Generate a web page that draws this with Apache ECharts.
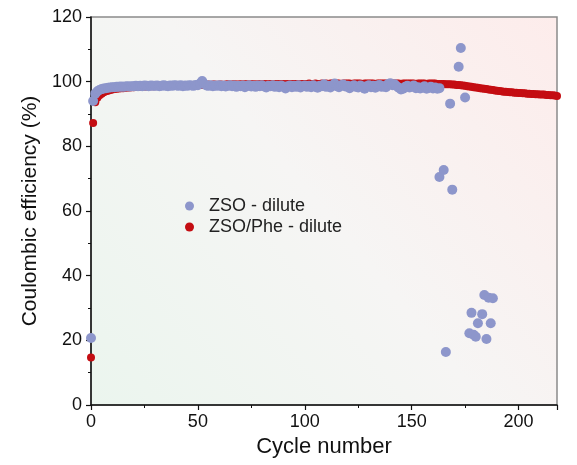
<!DOCTYPE html>
<html>
<head>
<meta charset="utf-8">
<script src="https://cdn.jsdelivr.net/npm/echarts@6/dist/echarts.min.js"></script>
<style>
  html, body { margin: 0; padding: 0; background: #fff; }
  #main { width: 577px; height: 465px; }
</style>
</head>
<body>
<div id="main"></div>
<script>
// ZSO - dilute, one value per cycle from 0 to 163
const zsoMain = [
  20.7, 94.0, 96.3, 97.0, 97.4, 97.7, 97.9, 98.0, 98.1, 98.2,
  98.3, 98.3, 98.4, 98.4, 98.5, 98.4, 98.5, 98.6, 98.5, 98.6,
  98.6, 98.7, 98.6, 98.7, 98.6, 98.8, 98.7, 98.6, 98.8, 98.7,
  98.7, 98.8, 98.6, 98.7, 98.9, 98.7, 98.6, 98.8, 98.7, 98.9,
  98.8, 98.7, 98.9, 98.6, 98.8, 98.7, 98.9, 98.8, 98.7, 99.0,
  98.9, 99.4, 100.2, 99.3, 98.8, 98.7, 98.9, 98.6, 98.8, 98.7,
  98.9, 98.6, 98.8, 98.5, 98.7, 98.9, 98.6, 98.8, 98.4, 98.7,
  98.6, 98.8, 98.3, 98.7, 98.9, 98.5, 98.7, 98.4, 98.8, 98.6,
  98.9, 98.5, 98.2, 98.7, 98.6, 98.9, 98.4, 98.7, 98.3, 98.8,
  98.5, 97.9, 98.6, 98.8, 98.3, 98.7, 98.4, 98.9, 98.2, 98.6,
  98.8, 98.4, 98.7, 98.3, 98.9, 98.5, 98.1, 98.7, 98.6, 99.2,
  98.4, 98.7, 98.2, 98.8, 99.4, 98.6, 98.3, 98.9, 99.1, 98.5,
  98.7, 98.0, 98.6, 98.9, 98.4, 98.2, 98.8, 98.5, 97.8, 98.6,
  98.9, 98.3, 98.7, 98.1, 98.8, 99.0, 98.4, 98.6, 98.3, 99.3,
  99.5, 98.9, 99.2, 98.6, 98.1, 97.6, 97.8, 98.4, 98.7, 98.2,
  98.5, 98.8, 98.0, 98.3, 97.9, 98.2, 98.6, 97.8, 98.1, 98.4,
  97.9, 98.2, 97.8, 98.0
];

// ZSO - dilute, scattered cycles after failure: [cycle, CE]
const zsoTail = [
  [163, 70.5], [165, 72.7], [166, 16.4], [168, 93.2], [169, 66.6],
  [172, 104.6], [173, 110.4], [175, 95.1], [177, 22.2], [178, 28.5],
  [179, 21.7], [180, 21.1], [181, 25.3], [183, 28.1], [184, 34.0],
  [185, 20.4], [186, 33.2], [187, 25.3], [188, 33.0]
];

// ZSO/Phe - dilute, one value per cycle from 0 to 218
const phe = [
  14.7, 87.2, 93.6, 95.0, 95.8, 96.3, 96.7, 97.0, 97.2, 97.4,
  97.6, 97.7, 97.8, 97.9, 98.0, 98.0, 98.1, 98.2, 98.2, 98.3,
  98.3, 98.4, 98.4, 98.4, 98.5, 98.5, 98.5, 98.6, 98.6, 98.6,
  98.6, 98.7, 98.7, 98.7, 98.7, 98.8, 98.7, 98.8, 98.8, 98.8,
  98.8, 98.9, 98.8, 98.9, 98.9, 98.9, 98.9, 99.0, 98.9, 99.0,
  99.0, 99.0, 99.1, 99.0, 99.0, 99.1, 99.0, 99.1, 99.1, 99.0,
  99.1, 99.1, 99.0, 99.1, 99.2, 99.1, 99.1, 99.2, 99.1, 99.1,
  99.2, 99.1, 99.2, 99.2, 99.1, 99.2, 99.2, 99.1, 99.2, 99.2,
  99.2, 99.3, 99.2, 99.2, 99.3, 99.2, 99.2, 99.3, 99.2, 99.3,
  99.3, 99.2, 99.3, 99.3, 99.2, 99.3, 99.3, 99.3, 99.2, 99.3,
  99.3, 99.3, 99.4, 99.3, 99.3, 99.4, 99.3, 99.3, 99.4, 99.3,
  99.4, 99.3, 99.4, 99.4, 99.3, 99.4, 99.4, 99.3, 99.4, 99.4,
  99.4, 99.4, 99.3, 99.4, 99.4, 99.4, 99.4, 99.3, 99.4, 99.4,
  99.4, 99.4, 99.4, 99.3, 99.4, 99.4, 99.4, 99.4, 99.4, 99.3,
  99.4, 99.4, 99.4, 99.4, 99.4, 99.3, 99.4, 99.4, 99.4, 99.4,
  99.4, 99.4, 99.3, 99.4, 99.4, 99.4, 99.4, 99.3, 99.4, 99.4,
  99.4, 99.4, 99.3, 99.3, 99.3, 99.3, 99.2, 99.2, 99.2, 99.1,
  99.1, 99.0, 99.0, 98.9, 98.8, 98.7, 98.6, 98.5, 98.4, 98.3,
  98.2, 98.1, 98.0, 97.9, 97.8, 97.7, 97.6, 97.5, 97.4, 97.3,
  97.2, 97.1, 97.0, 96.9, 96.9, 96.8, 96.7, 96.7, 96.6, 96.6,
  96.5, 96.5, 96.4, 96.4, 96.3, 96.3, 96.2, 96.2, 96.1, 96.1,
  96.0, 96.0, 96.0, 95.9, 95.9, 95.8, 95.8, 95.7, 95.6
];

const seriesNames = ['ZSO - dilute', 'ZSO/Phe - dilute'];
const yTicks = [0, 20, 40, 60, 80, 100, 120];
const xTicks = [0, 50, 100, 150, 200];

const font = 'Arial, "Liberation Sans", sans-serif';

var chart = echarts.init(document.getElementById('main'));

var zsoData = zsoMain.map(function (v, i) { return [i, v]; }).concat(zsoTail);
var pheData = phe.map(function (v, i) { return [i, v]; });

var option = {
  backgroundColor: '#ffffff',
  animation: false,
  textStyle: { fontFamily: font },
  grid: {
    left: 91, right: 20, top: 17, bottom: 60,
    show: true,
    borderColor: '#8a8a8a',
    borderWidth: 1.5,
    backgroundColor: new echarts.graphic.LinearGradient(0, 1, 1, 0, [
      { offset: 0, color: '#ebf5ee' },
      { offset: 0.5, color: '#f6f5f4' },
      { offset: 1, color: '#fdeceb' }
    ])
  },
  legend: {
    data: seriesNames,
    orient: 'vertical',
    left: 180,
    top: 192,
    icon: 'circle',
    itemWidth: 9,
    itemHeight: 9,
    itemGap: 3,
    textStyle: { fontSize: 18, color: '#222', fontFamily: font, padding: [0, 0, 0, 10] }
  },
  xAxis: {
    type: 'value',
    min: 0,
    max: 218,
    interval: 50,
    name: 'Cycle number',
    nameLocation: 'middle',
    nameGap: 31,
    nameTextStyle: { fontSize: 22, color: '#111', fontFamily: font },
    axisLine: { show: true, onZero: false, lineStyle: { color: '#111', width: 1.5 } },
    axisTick: { show: true, length: 5, lineStyle: { color: '#111', width: 1.2 } },
    minorTick: { show: true, splitNumber: 2, length: 3, lineStyle: { color: '#111', width: 1 } },
    splitLine: { show: false },
    axisLabel: {
      fontSize: 18, color: '#111', margin: 8, fontFamily: font,
      formatter: function (v) { return xTicks.indexOf(v) >= 0 ? String(v) : ''; }
    }
  },
  yAxis: {
    type: 'value',
    min: 0,
    max: 120,
    interval: 20,
    name: 'Coulombic efficiency (%)',
    nameLocation: 'middle',
    nameGap: 43,
    nameTextStyle: { fontSize: 21, color: '#111', fontFamily: font },
    axisLine: { show: true, onZero: false, lineStyle: { color: '#111', width: 1.5 } },
    axisTick: { show: true, length: 5, lineStyle: { color: '#111', width: 1.2 } },
    minorTick: { show: true, splitNumber: 2, length: 3, lineStyle: { color: '#111', width: 1 } },
    splitLine: { show: false },
    axisLabel: {
      fontSize: 18, color: '#111', margin: 9, fontFamily: font,
      formatter: function (v) { return yTicks.indexOf(v) >= 0 ? String(v) : ''; }
    }
  },
  series: [
    {
      name: seriesNames[1],
      type: 'scatter',
      data: pheData,
      symbolSize: 8,
      itemStyle: { color: '#c40d12', opacity: 1 },
      z: 2
    },
    {
      name: seriesNames[0],
      type: 'scatter',
      data: zsoData,
      symbolSize: 10,
      itemStyle: { color: '#8d96cb', opacity: 1 },
      z: 3
    }
  ]
};

chart.setOption(option);
</script>
</body>
</html>
